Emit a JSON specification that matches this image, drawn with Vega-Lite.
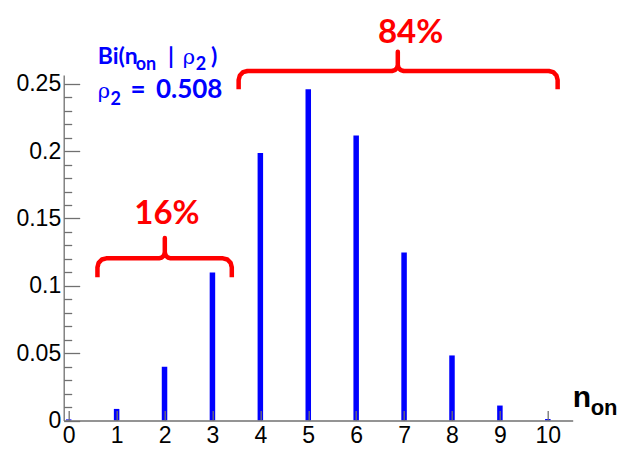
{
  "$schema": "https://vega.github.io/schema/vega-lite/v6.json",
  "autosize": {"type": "none"},
  "width": 509,
  "height": 345.5,
  "padding": {"left": 63.7, "top": 75, "right": 68.3, "bottom": 44.5},
  "background": "white",
  "config": {"view": {"stroke": null}},
  "layer": [
    {
      "data": {"values": [
        {"n": 0, "p": 0.00083}, {"n": 1, "p": 0.0086}, {"n": 2, "p": 0.0399},
        {"n": 3, "p": 0.1098}, {"n": 4, "p": 0.1985}, {"n": 5, "p": 0.2459},
        {"n": 6, "p": 0.2116}, {"n": 7, "p": 0.1248}, {"n": 8, "p": 0.0483},
        {"n": 9, "p": 0.0111}, {"n": 10, "p": 0.0011}
      ]},
      "mark": {"type": "bar", "size": 5.5, "color": "#0000ff"},
      "encoding": {
        "x": {"field": "n", "type": "quantitative",
          "scale": {"domain": [0, 10.415], "nice": false, "zero": false},
          "axis": {"title": null, "grid": false, "values": [0,1,2,3,4,5,6,7,8,9,10], "tickCount": 50,
            "format": "d", "tickSize": -10, "labelPadding": 14, "zindex": 1, "labelOverlap": false,
            "domainColor": "#707070", "tickColor": "#707070", "domainWidth": 1.3, "tickWidth": 1.3,
            "labelFont": "Liberation Sans", "labelFontSize": 23, "labelColor": "black", "labelFlush": false}},
        "y": {"field": "p", "type": "quantitative",
          "scale": {"domain": [0, 0.2565], "nice": false},
          "axis": {"title": null, "grid": false, "labelOverlap": false, "tickCount": 100,
            "values": [0,0.01,0.02,0.03,0.04,0.05,0.06,0.07,0.08,0.09,0.1,0.11,0.12,0.13,0.14,0.15,0.16,0.17,0.18,0.19,0.2,0.21,0.22,0.23,0.24,0.25],
            "format": "~g",
            "labelExpr": "round(datum.value*100) % 5 == 0 ? datum.label : ''",
            "tickSize": {"condition": {"test": "round(datum.value*100) % 5 == 0", "value": -16}, "value": -8},
            "labelPadding": 19, "zindex": 1,
            "domainColor": "#707070", "tickColor": "#707070", "domainWidth": 1.3, "tickWidth": 1.3,
            "labelFont": "Liberation Sans", "labelFontSize": 23, "labelColor": "black", "labelFlush": false}}
      }
    },
    {
      "data": {"values": [
        {"brace": "a", "i": 1, "x": 0.600, "y": 0.1063},
        {"brace": "a", "i": 2, "x": 0.600, "y": 0.1137},
        {"brace": "a", "i": 3, "x": 0.6247, "y": 0.1170},
        {"brace": "a", "i": 4, "x": 0.692, "y": 0.1195},
        {"brace": "a", "i": 5, "x": 0.784, "y": 0.1204},
        {"brace": "a", "i": 6, "x": 1.883, "y": 0.1204},
        {"brace": "a", "i": 7, "x": 1.9445, "y": 0.1210},
        {"brace": "a", "i": 8, "x": 1.9895, "y": 0.12263},
        {"brace": "a", "i": 9, "x": 2.006, "y": 0.12485},
        {"brace": "a", "i": 10, "x": 2.006, "y": 0.1355},
        {"brace": "a", "i": 11, "x": 2.006, "y": 0.12485},
        {"brace": "a", "i": 12, "x": 2.0225, "y": 0.12263},
        {"brace": "a", "i": 13, "x": 2.0675, "y": 0.1210},
        {"brace": "a", "i": 14, "x": 2.129, "y": 0.1204},
        {"brace": "a", "i": 15, "x": 3.220, "y": 0.1204},
        {"brace": "a", "i": 16, "x": 3.312, "y": 0.1195},
        {"brace": "a", "i": 17, "x": 3.3793, "y": 0.1170},
        {"brace": "a", "i": 18, "x": 3.404, "y": 0.1137},
        {"brace": "a", "i": 19, "x": 3.404, "y": 0.1063},
        {"brace": "b", "i": 1, "x": 3.547, "y": 0.2459},
        {"brace": "b", "i": 2, "x": 3.547, "y": 0.2528},
        {"brace": "b", "i": 3, "x": 3.5717, "y": 0.2561},
        {"brace": "b", "i": 4, "x": 3.639, "y": 0.2586},
        {"brace": "b", "i": 5, "x": 3.731, "y": 0.2595},
        {"brace": "b", "i": 6, "x": 6.746, "y": 0.2595},
        {"brace": "b", "i": 7, "x": 6.8075, "y": 0.2601},
        {"brace": "b", "i": 8, "x": 6.8525, "y": 0.26173},
        {"brace": "b", "i": 9, "x": 6.869, "y": 0.26395},
        {"brace": "b", "i": 10, "x": 6.869, "y": 0.2738},
        {"brace": "b", "i": 11, "x": 6.869, "y": 0.26395},
        {"brace": "b", "i": 12, "x": 6.8855, "y": 0.26173},
        {"brace": "b", "i": 13, "x": 6.9305, "y": 0.2601},
        {"brace": "b", "i": 14, "x": 6.992, "y": 0.2595},
        {"brace": "b", "i": 15, "x": 10.021, "y": 0.2595},
        {"brace": "b", "i": 16, "x": 10.113, "y": 0.2586},
        {"brace": "b", "i": 17, "x": 10.1803, "y": 0.2561},
        {"brace": "b", "i": 18, "x": 10.205, "y": 0.2528},
        {"brace": "b", "i": 19, "x": 10.205, "y": 0.2459}
      ]},
      "mark": {"type": "line", "color": "#ff0000", "strokeWidth": 4.5, "strokeJoin": "round", "strokeCap": "butt"},
      "encoding": {
        "x": {"field": "x", "type": "quantitative"},
        "y": {"field": "y", "type": "quantitative"},
        "detail": {"field": "brace"},
        "order": {"field": "i", "type": "quantitative"}
      }
    },
    {
      "data": {"values": [
        {"x": 2.05, "y": 0.1459, "t": "16%"},
        {"x": 7.135, "y": 0.2800, "t": "84%"}
      ]},
      "mark": {"type": "text", "color": "#ff0000", "font": "Lato", "fontWeight": "bold", "fontSize": 33, "align": "center", "baseline": "alphabetic"},
      "encoding": {
        "x": {"field": "x", "type": "quantitative"},
        "y": {"field": "y", "type": "quantitative"},
        "text": {"field": "t"}
      }
    },
    {
      "data": {"values": [
        {"x": 0.606, "y": 0.2644, "t": "Bi(n"},
        {"x": 2.073, "y": 0.2644, "t": "|"},
        {"x": 2.97, "y": 0.2644, "t": ")"}
      ]},
      "mark": {"type": "text", "color": "#0000ff", "font": "Lato", "fontWeight": "bold", "fontSize": 23, "align": "left", "baseline": "alphabetic"},
      "encoding": {
        "x": {"field": "x", "type": "quantitative"},
        "y": {"field": "y", "type": "quantitative"},
        "text": {"field": "t"}
      }
    },
    {
      "data": {"values": [
        {"x": 1.289, "y": 0.2396, "t": "="},
        {"x": 1.821, "y": 0.2396, "t": "0.508"}
      ]},
      "mark": {"type": "text", "color": "#0000ff", "font": "Lato", "fontWeight": "bold", "fontSize": 26, "align": "left", "baseline": "alphabetic"},
      "encoding": {
        "x": {"field": "x", "type": "quantitative"},
        "y": {"field": "y", "type": "quantitative"},
        "text": {"field": "t"}
      }
    },
    {
      "data": {"values": [
        {"x": 2.380, "y": 0.2644, "t": "ρ"},
        {"x": 0.606, "y": 0.2396, "t": "ρ"}
      ]},
      "mark": {"type": "text", "color": "#0000ff", "font": "DejaVu Serif", "fontSize": 21, "align": "left", "baseline": "alphabetic"},
      "encoding": {
        "x": {"field": "x", "type": "quantitative"},
        "y": {"field": "y", "type": "quantitative"},
        "text": {"field": "t"}
      }
    },
    {
      "data": {"values": [
        {"x": 1.40, "y": 0.2602, "t": "on"},
        {"x": 2.65, "y": 0.2602, "t": "2"},
        {"x": 0.87, "y": 0.2342, "t": "2"}
      ]},
      "mark": {"type": "text", "color": "#0000ff", "font": "Lato", "fontWeight": "bold", "fontSize": 18, "align": "left", "baseline": "alphabetic"},
      "encoding": {
        "x": {"field": "x", "type": "quantitative"},
        "y": {"field": "y", "type": "quantitative"},
        "text": {"field": "t"}
      }
    },
    {
      "data": {"values": [
        {"x": 10.519, "y": 0.01025, "t": "n"}
      ]},
      "mark": {"type": "text", "color": "black", "font": "Liberation Sans", "fontWeight": "bold", "fontSize": 30, "align": "left", "baseline": "alphabetic"},
      "encoding": {
        "x": {"field": "x", "type": "quantitative"},
        "y": {"field": "y", "type": "quantitative"},
        "text": {"field": "t"}
      }
    },
    {
      "data": {"values": [
        {"x": 10.894, "y": 0.00408, "t": "on"}
      ]},
      "mark": {"type": "text", "color": "black", "font": "Liberation Sans", "fontWeight": "bold", "fontSize": 22, "align": "left", "baseline": "alphabetic"},
      "encoding": {
        "x": {"field": "x", "type": "quantitative"},
        "y": {"field": "y", "type": "quantitative"},
        "text": {"field": "t"}
      }
    }
  ]
}
